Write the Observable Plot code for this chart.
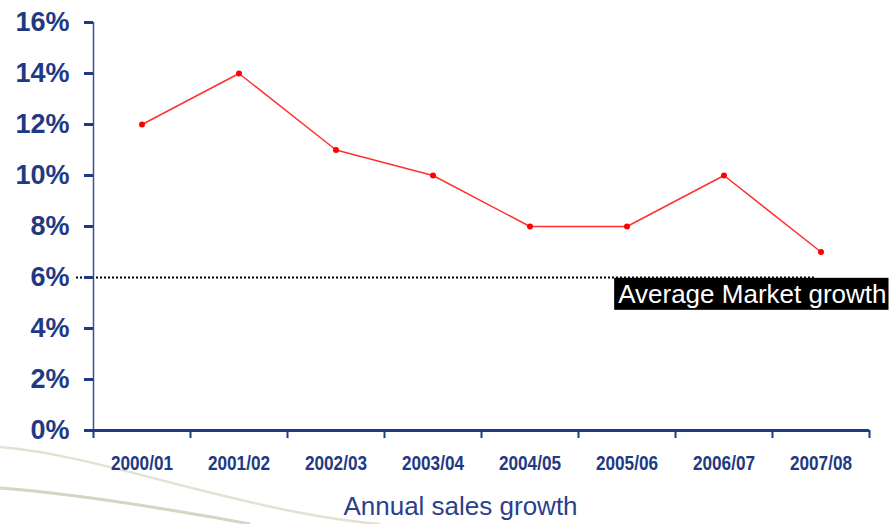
<!DOCTYPE html>
<html>
<head>
<meta charset="utf-8">
<script src="https://cdn.jsdelivr.net/npm/d3@7"></script>
<script src="https://cdn.jsdelivr.net/npm/@observablehq/plot@0.6"></script>
<style>
  html, body { margin: 0; padding: 0; background: #fff; }
  #wrap { position: relative; width: 891px; height: 524px; overflow: hidden; }
  #deco { position: absolute; left: 0; top: 0; }
  #chart { position: absolute; left: 0; top: 0; }
</style>
</head>
<body>
<div id="wrap">
  <svg id="deco" width="891" height="524">
    <path d="M0,447 C60,452 120,470 200,490 S330,520 380,524" fill="none" stroke="#e2e2d4" stroke-width="2.5"/>
    <path d="M0,488 C50,492 110,500 170,510 S230,520 250,524" fill="none" stroke="#d6d4c2" stroke-width="3"/>
  </svg>
  <div id="chart"></div>
</div>
<script>
const categories = ["2000/01", "2001/02", "2002/03", "2003/04", "2004/05", "2005/06", "2006/07", "2007/08"];
const growth = [12, 14, 11, 10, 8, 8, 10, 7];
const yTicks = [0, 2, 4, 6, 8, 10, 12, 14, 16];
const averageMarket = 6;
const averageLabel = "Average Market growth";
const axisTitle = "Annual sales growth";

const navy = "#1f3a84";
const data = categories.map((c, i) => ({category: c, pos: i + 0.5, value: growth[i]}));
const annotation = [{label: averageLabel, pos: categories.length, value: averageMarket}];

const chart = Plot.plot({
  width: 891,
  height: 524,
  marginLeft: 93,
  marginRight: 22,
  marginTop: 22,
  marginBottom: 94,
  style: {background: "transparent", fontFamily: "Liberation Sans, Arial, sans-serif"},
  x: {domain: [0, categories.length], axis: null},
  y: {domain: [0, 16], axis: null},
  marks: [
    // average market growth dotted line
    Plot.ruleY([averageMarket], {x1: 0, x2: data[data.length - 1].pos, insetLeft: -17, insetRight: 5, stroke: "#000", strokeWidth: 2, strokeDasharray: "2,2"}),
    // y axis line
    Plot.ruleX([0], {stroke: "#3451a0", strokeWidth: 1.5}),
    // y axis ticks & labels
    Plot.axisY(yTicks, {anchor: "left", label: null, tickSize: 9, tickPadding: 15, tickFormat: d => d + "%", fontSize: 27, fontWeight: "bold", color: navy, strokeWidth: 3}),
    // x axis line
    Plot.ruleY([0], {stroke: navy, strokeWidth: 3, insetLeft: -9}),
    // x axis ticks at band boundaries
    Plot.axisX(d3.range(categories.length + 1), {anchor: "bottom", label: null, tickSize: 8, tickFormat: () => "", color: navy, strokeWidth: 2}),
    // x axis category labels
    Plot.axisX(data.map(d => d.pos), {anchor: "bottom", label: null, tickSize: 0, tickPadding: 25, tickFormat: d => categories[Math.floor(d)], fontSize: 20, fontWeight: "bold", color: navy}),
    // series
    Plot.line(data, {x: "pos", y: "value", stroke: "#ff3030", strokeWidth: 1.5}),
    Plot.dot(data, {x: "pos", y: "value", r: 3, fill: "#ff0000", stroke: "none"}),
    // average label
    Plot.text(annotation, {x: "pos", y: "value", text: "label", textAnchor: "end", dx: 17, dy: 17, fontSize: 26, fill: "#fff"}),
    // axis title
    Plot.text([axisTitle], {frameAnchor: "bottom", text: d => d, dx: -21, dy: 84, fontSize: 26, fill: "#2b3f8c"})
  ]
});

document.getElementById("chart").appendChild(chart);

// condense the category labels (narrow font look)
d3.select(chart).selectAll("text").each(function() {
  if (categories.includes(this.textContent)) {
    const t = this.getAttribute("transform") || "";
    this.setAttribute("transform", t + " scale(0.86,1)");
  }
});

// black box behind the average label
d3.select(chart).selectAll("text").each(function() {
  if (this.textContent === averageLabel) {
    const b = this.getBBox();
    const rect = document.createElementNS("http://www.w3.org/2000/svg", "rect");
    rect.setAttribute("x", b.x - 4);
    rect.setAttribute("y", b.y - 1);
    rect.setAttribute("width", b.width + 6);
    rect.setAttribute("height", b.height + 2);
    rect.setAttribute("fill", "#000");
    const t = this.getAttribute("transform");
    if (t) rect.setAttribute("transform", t);
    this.parentNode.insertBefore(rect, this);
  }
});
</script>
</body>
</html>
